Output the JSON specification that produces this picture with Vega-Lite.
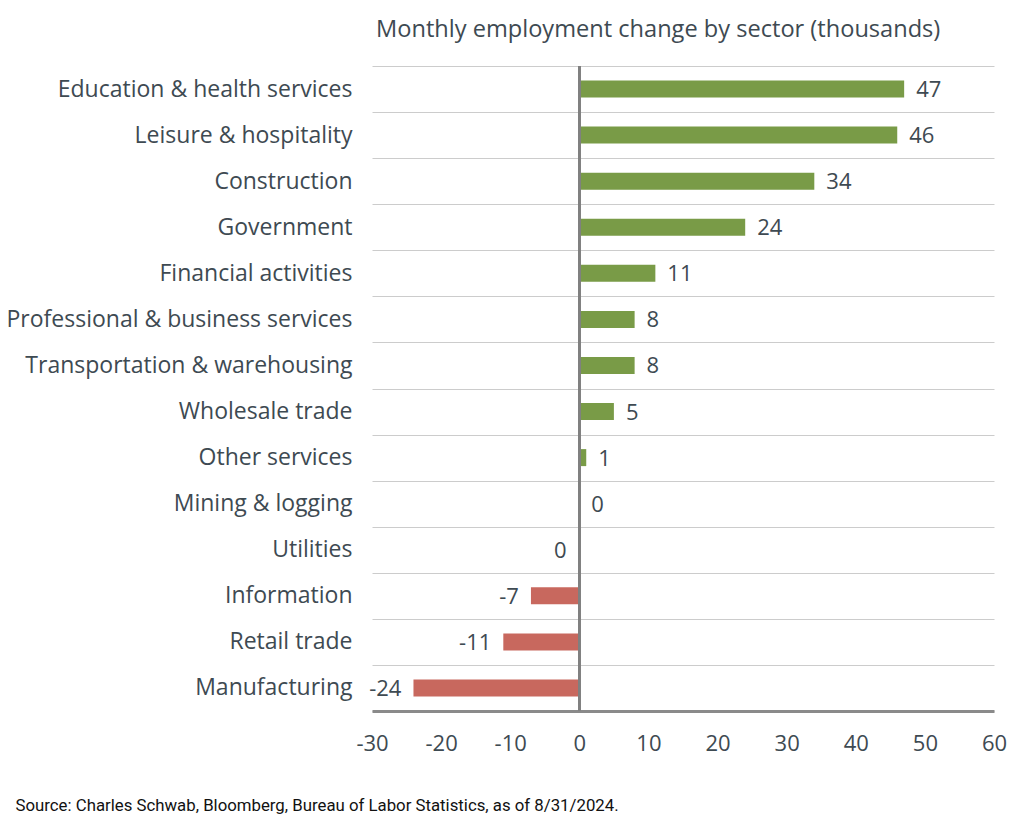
{
  "$schema": "https://vega.github.io/schema/vega-lite/v6.json",
  "width": 622,
  "height": 645,
  "autosize": {"type": "none"},
  "padding": {"left": 372, "top": 66, "right": 28, "bottom": 114},
  "background": "white",
  "config": {"view": {"stroke": null}, "font": "Open Sans"},
  "title": {
    "text": "Monthly employment change by sector (thousands)",
    "anchor": "start",
    "frame": "group",
    "dx": 4,
    "offset": 13,
    "fontSize": 23.6,
    "fontWeight": "normal",
    "color": "#3e4a52",
    "font": "Open Sans"
  },
  "data": {
    "values": [
      {"sector": "Education & health services", "value": 47, "label": "47"},
      {"sector": "Leisure & hospitality", "value": 46, "label": "46"},
      {"sector": "Construction", "value": 34, "label": "34"},
      {"sector": "Government", "value": 24, "label": "24"},
      {"sector": "Financial activities", "value": 11, "label": "11"},
      {"sector": "Professional & business services", "value": 8, "label": "8"},
      {"sector": "Transportation & warehousing", "value": 8, "label": "8"},
      {"sector": "Wholesale trade", "value": 5, "label": "5"},
      {"sector": "Other services", "value": 1, "label": "1"},
      {"sector": "Mining & logging", "value": 0, "label": "0"},
      {"sector": "Utilities", "value": -0.1, "label": "0"},
      {"sector": "Information", "value": -7, "label": "-7"},
      {"sector": "Retail trade", "value": -11, "label": "-11"},
      {"sector": "Manufacturing", "value": -24, "label": "-24"}
    ]
  },
  "layer": [
    {
      "mark": {"type": "bar", "size": 17},
      "encoding": {
        "y": {
          "field": "sector",
          "type": "nominal",
          "sort": null,
          "scale": {"padding": 0},
          "axis": {
            "title": null,
            "domain": false,
            "ticks": false,
            "grid": true,
            "tickBand": "extent",
            "gridColor": "#cccccc",
            "gridWidth": 1,
            "labelPadding": 20,
            "labelFontSize": 23,
            "labelColor": "#3e4a52",
            "labelFont": "Open Sans",
            "labelLimit": 400
          }
        },
        "x": {
          "field": "value",
          "type": "quantitative",
          "scale": {"domain": [-30, 60], "nice": false, "zero": false},
          "axis": {
            "values": [-30, -20, -10, 0, 10, 20, 30, 40, 50, 60],
            "labelExpr": "'' + datum.value",
            "grid": false,
            "ticks": false,
            "domainColor": "#8a8a8a",
            "domainWidth": 3,
            "labelPadding": 22,
            "labelFontSize": 22,
            "labelColor": "#3e4a52",
            "labelFont": "Open Sans",
            "labelFlush": false,
            "title": "Source: Charles Schwab, Bloomberg, Bureau of Labor Statistics, as of 8/31/2024.",
            "titleFontSize": 16.8,
            "titleFontWeight": "normal",
            "titleColor": "#111111",
            "titleFont": "Roboto",
            "titleAnchor": "start",
            "titleAlign": "left",
            "titleBaseline": "alphabetic",
            "titleX": -357,
            "titleY": 99
          }
        },
        "color": {
          "condition": {"test": "datum.value < 0", "value": "#c8685e"},
          "value": "#799b47"
        }
      }
    },
    {
      "mark": {"type": "rule", "color": "#808080", "strokeWidth": 2},
      "encoding": {"x": {"datum": 0}}
    },
    {
      "transform": [{"filter": "datum.value >= 0"}],
      "mark": {"type": "text", "align": "left", "baseline": "middle", "dx": 12, "dy": 1, "fontSize": 22, "color": "#3e4a52", "font": "Open Sans"},
      "encoding": {
        "y": {"field": "sector", "type": "nominal", "sort": null},
        "x": {"field": "value", "type": "quantitative"},
        "text": {"field": "label"}
      }
    },
    {
      "transform": [{"filter": "datum.value < 0"}],
      "mark": {"type": "text", "align": "right", "baseline": "middle", "dx": -12, "dy": 1, "fontSize": 22, "color": "#3e4a52", "font": "Open Sans"},
      "encoding": {
        "y": {"field": "sector", "type": "nominal", "sort": null},
        "x": {"field": "value", "type": "quantitative"},
        "text": {"field": "label"}
      }
    }
  ]
}
